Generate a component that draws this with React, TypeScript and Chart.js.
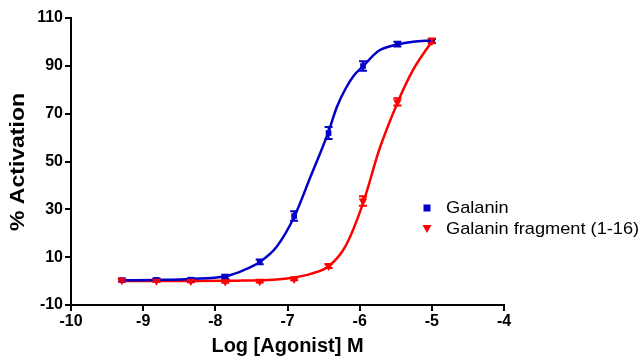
import React, { useEffect, useRef } from "react";
import { Chart, registerables } from "chart.js";

Chart.register(...registerables);

// measured points
const logConc = [-9.294, -8.816, -8.339, -7.862, -7.385, -6.908, -6.431, -5.954, -5.477, -5.0];
const galanin = [0.4, 0.5, 0.6, 1.8, 8.0, 27.2, 61.9, 89.9, 99.1, 100.4];
const galaninErr = [0.6, 0.6, 0.6, 0.8, 1.0, 2.0, 2.5, 2.0, 1.0, 0.8];
const fragment = [0.4, 0.1, 0.0, -0.2, -0.1, 0.9, 6.3, 33.5, 74.9, 100.4];
const fragmentErr = [0.6, 0.5, 0.5, 0.5, 0.5, 0.5, 0.8, 2.0, 1.5, 1.0];

// fitted curves
const galaninFitX = [-9.294, -8.816, -8.339, -7.862, -7.62, -7.385, -7.15, -6.908, -6.68, -6.431, -6.32, -6.2, -6.08, -5.954, -5.74, -5.477, -5.26, -5.0];
const galaninFit = [0.3, 0.5, 0.9, 2.0, 4.4, 8.0, 14.4, 26.8, 43.7, 62.5, 72.5, 80.2, 86.0, 89.8, 96.2, 98.9, 100.1, 100.6];
const fragmentFitX = [-9.294, -8.816, -8.339, -7.862, -7.62, -7.385, -7.15, -6.908, -6.68, -6.431, -6.2, -5.954, -5.73, -5.477, -5.26, -5.0];
const fragmentFit = [0.0, 0.0, 0.0, 0.1, 0.2, 0.3, 0.7, 1.5, 3.0, 6.2, 14.4, 32.5, 54.8, 74.5, 88.3, 100.2];

const seriesNames = ["Galanin", "Galanin fragment (1-16)"];
const seriesColors = ["#0000C8", "#FF0000"];
const xTicks = [-10, -9, -8, -7, -6, -5, -4];
const yTicks = [-10, 10, 30, 50, 70, 90, 110];
const yTitle = "% Activation";
const FONT = "Arial, 'Liberation Sans', sans-serif";

const errorBarPlugin = {
  id: "errorBars",
  afterDatasetsDraw(chart: any) {
    const ctx = chart.ctx;
    const ys = chart.scales.y;
    chart.data.datasets.forEach((ds: any, di: number) => {
      const errs = ds.errors as number[];
      if (!errs) return;
      const meta = chart.getDatasetMeta(di);
      ctx.save();
      ctx.strokeStyle = ds.borderColor;
      ctx.lineWidth = 2;
      meta.data.forEach((pt: any, i: number) => {
        const v = ds.data[i].y;
        const yTop = ys.getPixelForValue(v + errs[i]);
        const yBot = ys.getPixelForValue(v - errs[i]);
        const x = pt.x;
        ctx.beginPath();
        ctx.moveTo(x, yTop);
        ctx.lineTo(x, yBot);
        ctx.moveTo(x - 4, yTop);
        ctx.lineTo(x + 4, yTop);
        ctx.moveTo(x - 4, yBot);
        ctx.lineTo(x + 4, yBot);
        ctx.stroke();
      });
      ctx.restore();
    });
  },
};

const textPlugin = {
  id: "customText",
  afterDraw(chart: any) {
    const ctx = chart.ctx;
    ctx.save();
    ctx.translate(18, 162);
    ctx.rotate(-Math.PI / 2);
    ctx.scale(1.15, 1);
    ctx.font = `bold 20px ${FONT}`;
    ctx.fillStyle = "#000";
    ctx.textAlign = "center";
    ctx.textBaseline = "middle";
    ctx.fillText(yTitle, 0, 0);
    ctx.restore();

    ctx.save();
    const x0 = 427;
    const rows = [208, 229];
    ctx.fillStyle = seriesColors[0];
    ctx.fillRect(x0 - 3.5, rows[0] - 3.5, 7, 7);
    ctx.fillStyle = seriesColors[1];
    ctx.beginPath();
    ctx.moveTo(x0 - 4.5, rows[1] - 4);
    ctx.lineTo(x0 + 4.5, rows[1] - 4);
    ctx.lineTo(x0, rows[1] + 4);
    ctx.closePath();
    ctx.fill();
    ctx.fillStyle = "#000";
    ctx.font = `17px ${FONT}`;
    ctx.textBaseline = "middle";
    rows.forEach((ry, i) => {
      ctx.save();
      ctx.translate(446, ry);
      ctx.scale(1.07, 1);
      ctx.fillText(seriesNames[i], 0, 0);
      ctx.restore();
    });
    ctx.restore();
  },
};

export default function App() {
  const ref = useRef<HTMLCanvasElement>(null);
  useEffect(() => {
    if (!ref.current) return;
    const pts = (xs: number[], ys: number[]) => xs.map((x, i) => ({ x, y: ys[i] }));
    const curve = (xs: number[], ys: number[], color: string) => ({
      data: pts(xs, ys),
      showLine: true,
      cubicInterpolationMode: "monotone",
      borderColor: color,
      backgroundColor: color,
      borderWidth: 2.5,
      pointRadius: 0,
    });
    const chart = new Chart(ref.current, {
      type: "scatter",
      data: {
        datasets: [
          curve(galaninFitX, galaninFit, seriesColors[0]) as any,
          curve(fragmentFitX, fragmentFit, seriesColors[1]) as any,
          {
            label: seriesNames[0],
            data: pts(logConc, galanin),
            errors: galaninErr,
            showLine: false,
            borderColor: seriesColors[0],
            backgroundColor: seriesColors[0],
            pointStyle: "rect",
            pointRadius: 4,
            pointBorderWidth: 0,
          } as any,
          {
            label: seriesNames[1],
            data: pts(logConc, fragment),
            errors: fragmentErr,
            showLine: false,
            borderColor: seriesColors[1],
            backgroundColor: seriesColors[1],
            pointStyle: "triangle",
            rotation: 180,
            pointRadius: 5,
            pointBorderWidth: 0,
          } as any,
        ],
      },
      options: {
        animation: false,
        responsive: false,
        maintainAspectRatio: false,
        layout: { padding: { top: 18, right: 139, left: 0, bottom: 0 } },
        plugins: { legend: { display: false }, tooltip: { enabled: false } },
        scales: {
          x: {
            type: "linear",
            min: -10,
            max: -4,
            afterBuildTicks: (s: any) => { s.ticks = xTicks.map((v) => ({ value: v })); },
            afterFit: (s: any) => { s.height = 53; },
            grid: { display: true, drawOnChartArea: false, drawTicks: true, tickLength: 6, color: "#000", lineWidth: 2 },
            border: { display: true, color: "#000", width: 2 },
            ticks: { color: "#000", font: { family: FONT, size: 16, weight: "bold" }, padding: 1, maxRotation: 0 },
            title: { display: true, text: "Log [Agonist] M", color: "#000", font: { family: FONT, size: 20, weight: "bold" }, padding: { top: 1, bottom: 0 } },
          },
          y: {
            type: "linear",
            min: -10,
            max: 110,
            afterBuildTicks: (s: any) => { s.ticks = yTicks.map((v) => ({ value: v })); },
            afterFit: (s: any) => { s.width = 71; },
            grid: { display: true, drawOnChartArea: false, drawTicks: true, tickLength: 6, color: "#000", lineWidth: 2 },
            border: { display: true, color: "#000", width: 2 },
            ticks: { color: "#000", font: { family: FONT, size: 16, weight: "bold" }, padding: 2 },
            title: { display: false },
          },
        },
      } as any,
      plugins: [errorBarPlugin, textPlugin],
    });
    return () => chart.destroy();
  }, []);
  return (
    <div style={{ position: "absolute", left: 0, top: 0, width: 643, height: 358, background: "#fff" }}>
      <canvas ref={ref} width={643} height={358} style={{ width: 643, height: 358 }} />
    </div>
  );
}
